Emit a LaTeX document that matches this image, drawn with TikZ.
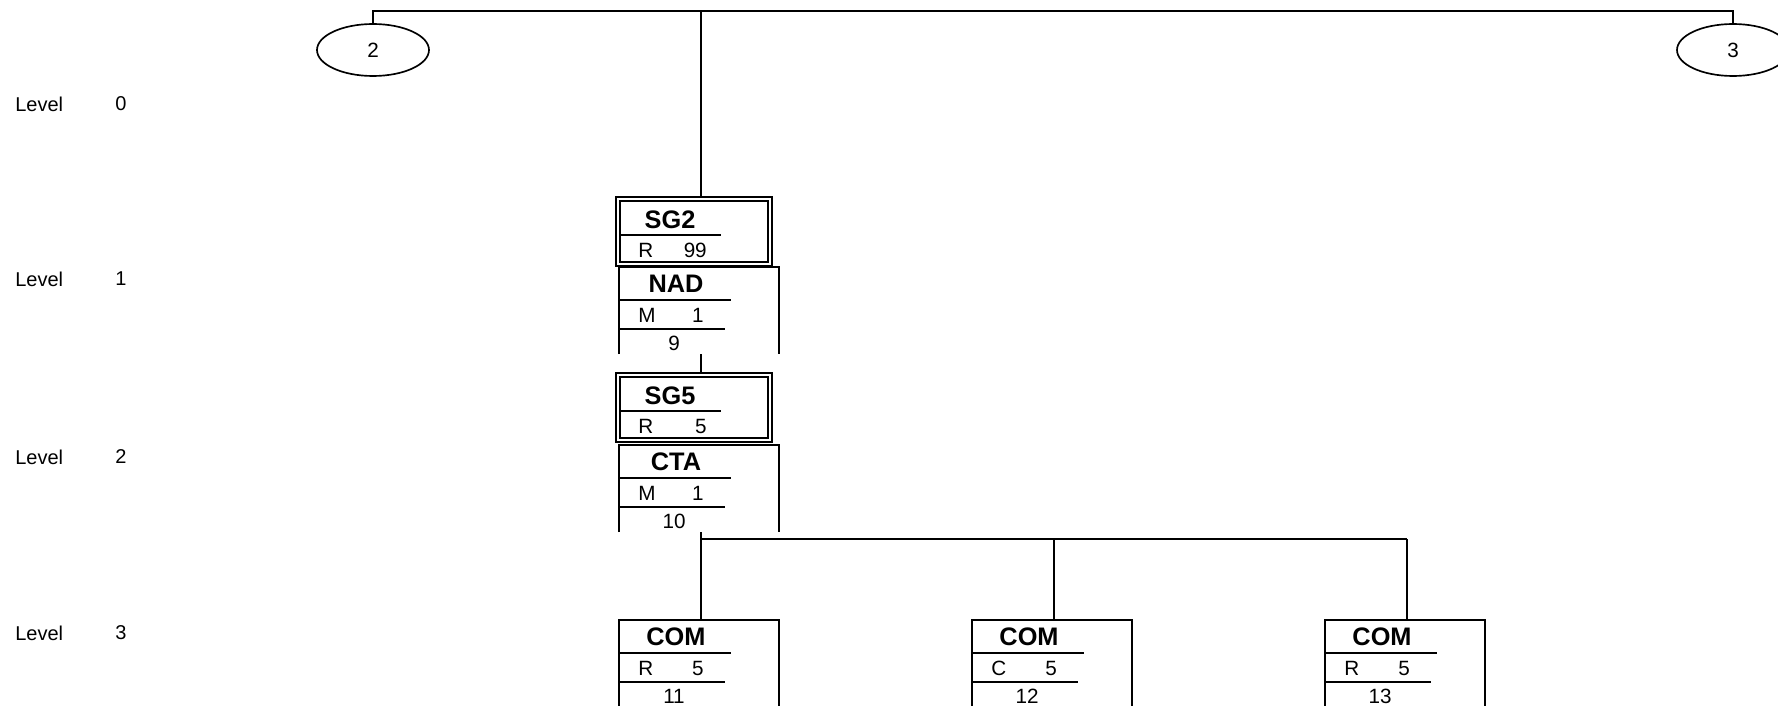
\documentclass[tikz,border=0pt]{standalone}
\usepackage{fontspec}
\setmainfont{Liberation Sans}
\usetikzlibrary{positioning, shapes.geometric}

% record box: name, x, y, title, code, value, number
\newcommand{\recbox}[7]{%
  \begin{scope}[shift={(#2,#3)}]
    \coordinate (#1-top) at (82,0);
    \coordinate (#1-bot) at (82,87);
    \draw[boxline] (0,87) -- (0,0) -- (160,0) -- (160,87);
    \draw[boxline] (0,33) -- (112,33);
    \draw[boxline] (0,62) -- (106,62);
    \node[boxtitle] (#1-name) at (57,17) {#4};
    \node[boxcode, anchor=west] (#1-code) at (19,48) {#5};
    \node[boxcode, anchor=east] (#1-val) at (85,48) {#6};
    \node[boxcode] (#1-num) at (55,76) {#7};
  \end{scope}}

% group box (double frame): name, x, y, title, code, value
\newcommand{\sgbox}[6]{%
  \begin{scope}[shift={(#2,#3)}]
    \coordinate (#1-top) at (85,0);
    \coordinate (#1-bot) at (85,69);
    \draw[boxline] (0,0) rectangle (156,69);
    \draw[boxline] (4,4) rectangle (152,65);
    \draw[boxline] (4,38) -- (105,38);
    \node[boxtitle] (#1-name) at (54,23) {#4};
    \node[boxcode, anchor=west] (#1-code) at (22,53) {#5};
    \node[boxcode, anchor=east] (#1-val) at (91,53) {#6};
  \end{scope}}

\begin{document}
\begin{tikzpicture}[
    x=0.75pt, y=-0.75pt,
    wire/.style={line width=2.1pt},
    boxline/.style={line width=1.6pt},
    boxtitle/.style={font=\fontsize{19}{22}\selectfont\bfseries, inner sep=0},
    boxcode/.style={font=\fontsize{15.5}{18}\selectfont, inner sep=0},
    lvl/.style={font=\fontsize{15}{18}\selectfont, inner sep=0},
    endpt/.style={ellipse, draw, line width=1.25pt, minimum width=84pt,
                  minimum height=39pt, inner sep=0, font=\fontsize{15.5}{18}\selectfont}
]
\useasboundingbox (0,0) rectangle (1778,706);
\clip (0,0) rectangle (1778,706);
% --- Levels ---
\foreach \n/\y in {0/104, 1/279, 2/457, 3/633} {
    \node[lvl, anchor=west] (lvl\n) at (15,\y) {Level};
    \node[lvl] (lvlnum\n) at (121,\y) {\n};
}
% --- Connectors off page ---
\node[endpt] (e2) at (373,50) {2};
\node[endpt] (e3) at (1733,50) {3};
\coordinate (topbar) at (701,11);
% --- Boxes ---
\sgbox{sg2}{616}{197}{SG2}{R}{99}
\recbox{nad}{619}{267}{NAD}{M}{1}{9}
\sgbox{sg5}{616}{373}{SG5}{R}{5}
\recbox{cta}{619}{445}{CTA}{M}{1}{10}
\recbox{com1}{619}{620}{COM}{R}{5}{11}
\recbox{com2}{972}{620}{COM}{C}{5}{12}
\recbox{com3}{1325}{620}{COM}{R}{5}{13}
\coordinate (fork) at (701,539);
% --- Lines ---
\draw[wire] (e2.north) -- (e2.north |- topbar) -- (e3.north |- topbar) -- (e3.north);
\draw[wire] (topbar) -- (sg2-top);
\draw[wire] (nad-bot) -- (sg5-top);
\draw[wire] (cta-bot) -- (com1-top);
\draw[wire] (fork) -- (fork -| com3-top);
\foreach \c in {com2, com3}
    \draw[wire] (fork -| \c-top) -- (\c-top);
\end{tikzpicture}
\end{document}
